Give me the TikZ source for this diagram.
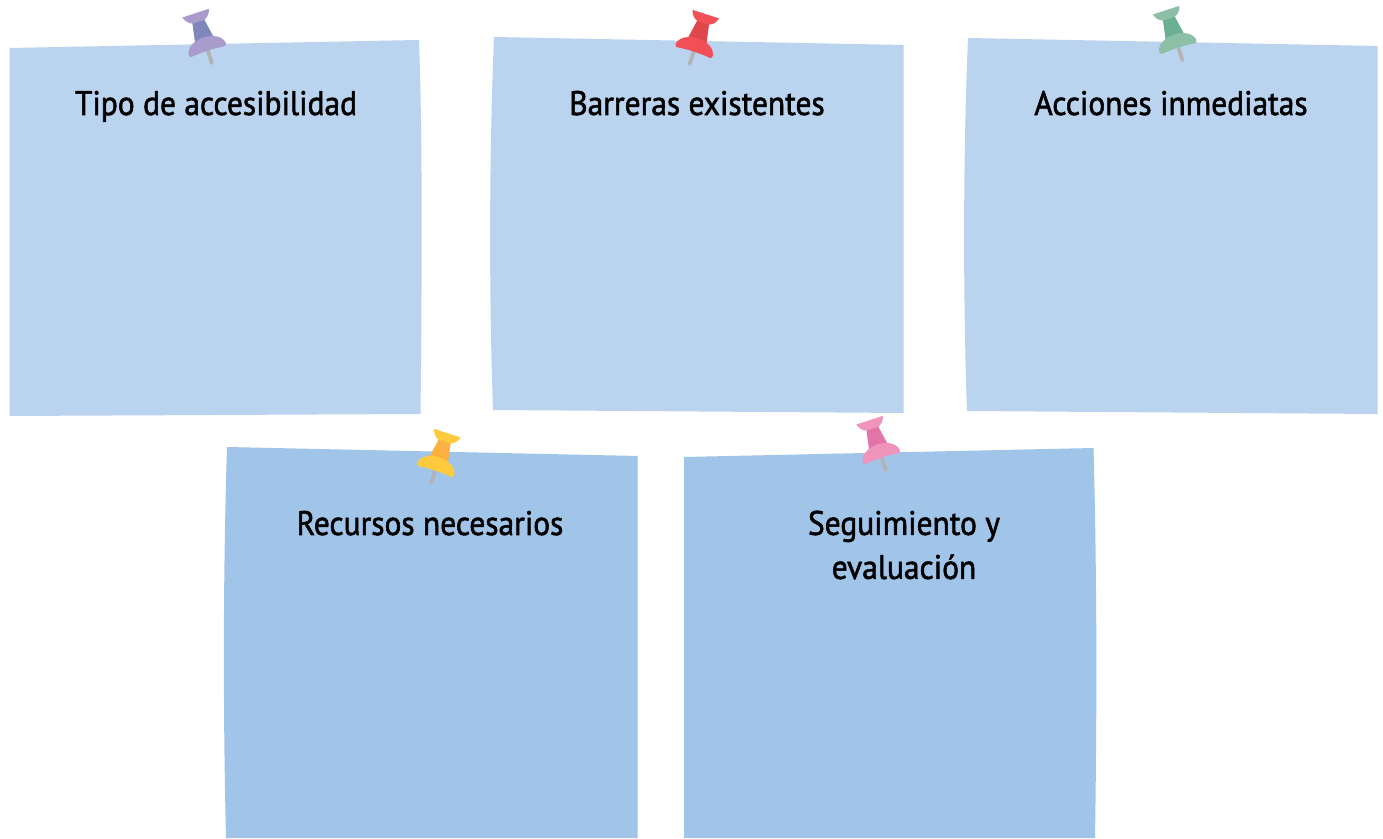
\documentclass[tikz,border=0pt]{standalone}
\usepackage{fontspec}
\setmainfont[FakeStretch=0.925,FakeBold=1.6]{PT Sans}
\definecolor{cardA}{HTML}{BAD3EF}
\definecolor{cardB}{HTML}{A1C4E9}
\definecolor{needle}{HTML}{B3B3B3}
\definecolor{pinPurple}{HTML}{A99BCB}
\definecolor{pinPurpleB}{HTML}{7F86BC}
\definecolor{pinRed}{HTML}{F25056}
\definecolor{pinRedB}{HTML}{DF474C}
\definecolor{pinGreen}{HTML}{8CBFA5}
\definecolor{pinGreenB}{HTML}{6BB093}
\definecolor{pinYellow}{HTML}{FFCB3D}
\definecolor{pinYellowB}{HTML}{FBB040}
\definecolor{pinPink}{HTML}{EF95BC}
\definecolor{pinPinkB}{HTML}{E274A8}
\tikzset{
 titlelabel/.style={font=\fontsize{34}{44}\selectfont,text=black,align=center,inner sep=0pt,anchor=base},
}
\newcommand{\tackpin}[5]{% x, y(from top), rotation, head colour, body colour
 \begin{scope}[shift={(#1,838-#2)},rotate=#3]
  \draw[needle,line width=3.6pt,line cap=round] (0,2) -- (0,15);
  \fill[#5] (-10.5,22) -- (-6,47) -- (6,47) -- (10.5,22) -- cycle;
  \fill[#4] (-19.5,16.5) .. controls (-19,24) and (-10,29) .. (0,29) .. controls (10,29) and (19,24) .. (19.5,16.5) .. controls (19,14) and (18,14) .. (17,14.2) .. controls (6,15.5) and (-6,15.5) .. (-17,14.2) .. controls (-18,14) and (-19,14) .. (-19.5,16.5) -- cycle;
  \fill[#4] (-14,54.5) -- (14,54.5) .. controls (12.5,49) and (9,46.5) .. (6,45.5) -- (-6,45.5) .. controls (-9,46.5) and (-12.5,49) .. (-14,54.5) -- cycle;
 \end{scope}}
\begin{document}
\begin{tikzpicture}[x=1pt,y=1pt]
\useasboundingbox (0,0) rectangle (1383,838);
\fill[white] (0,0) rectangle (1383,838);
% cards (x, 838-y)
\fill[cardA] (9.5,790) -- (419,798) .. controls (421,740) and (423,650) .. (420.5,424) -- (9.5,422) -- cycle;
\fill[cardA] (494,801) -- (903.5,793) -- (903.5,425) -- (493,428) .. controls (489,540) and (489,680) .. (494,801) -- cycle;
\fill[cardA] (968,800) -- (1377.5,792) -- (1377.5,424) -- (967,427) .. controls (963,540) and (963,680) .. (968,800) -- cycle;
\fill[cardB] (227,391) -- (637.5,382) -- (637.5,0) -- (226,0) .. controls (223,130) and (223,260) .. (227,391) -- cycle;
\fill[cardB] (684,381) -- (1093.5,390) .. controls (1097,260) and (1097,130) .. (1095,0) -- (684,0) -- cycle;
% pins
\tackpin{212.5}{65}{18}{pinPurple}{pinPurpleB}
\tackpin{689}{66}{-18}{pinRed}{pinRedB}
\tackpin{1183}{62}{18}{pinGreen}{pinGreenB}
\tackpin{430.5}{485}{-18}{pinYellow}{pinYellowB}
\tackpin{886.5}{472}{18}{pinPink}{pinPinkB}
% titles
\node[titlelabel] (t1) at (216,723) {Tipo de accesibilidad};
\node[titlelabel] (t2) at (697,723) {Barreras existentes};
\node[titlelabel] (t3) at (1171,723) {Acciones inmediatas};
\node[titlelabel] (t4) at (430,303) {Recursos necesarios};
\node[titlelabel,anchor=center] (t5) at (904,293) {Seguimiento y\\evaluación};
\end{tikzpicture}
\end{document}
